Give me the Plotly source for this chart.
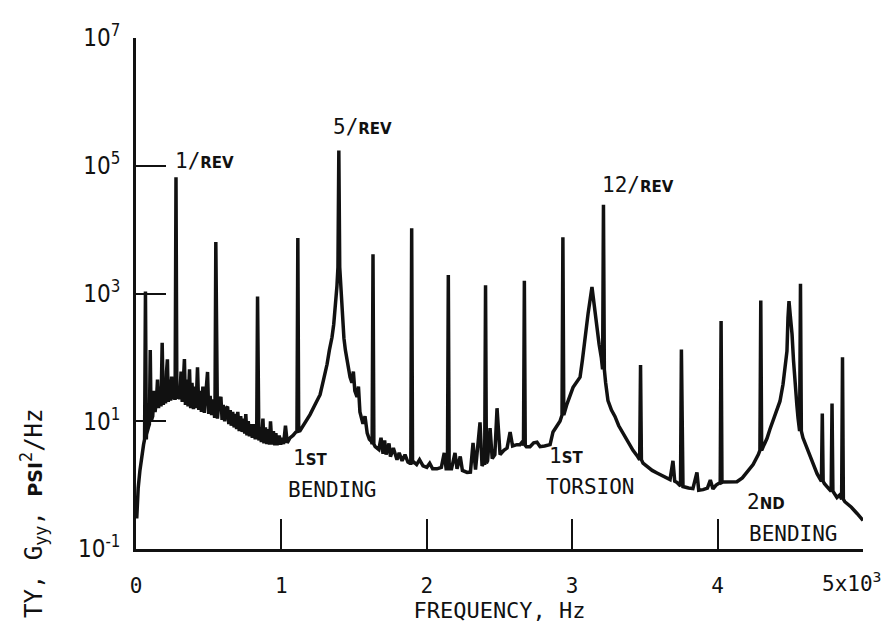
import plotly.graph_objects as go

# Broadband spectrum (Hz, psi^2/Hz): response floor, rotor "grass" and the
# 1st bending, 1st torsion and 2nd bending resonances
bb_freq = [
    5, 15, 27, 40, 52, 72, 85, 92, 98, 104, 115, 125, 131, 140, 148, 155, 165, 172, 180, 188,
    196, 203, 210, 216, 222, 230, 238, 245, 252, 260, 267, 284, 292, 300, 310, 318, 325, 333, 340, 350,
    358, 368, 376, 385, 395, 405, 413, 423, 432, 440, 450, 460, 470, 480, 492, 500, 510, 520, 530, 540,
    560, 570, 584, 592, 600, 610, 620, 630, 638, 648, 655, 665, 675, 685, 692, 700, 710, 720, 730, 740,
    748, 755, 763, 772, 780, 790, 800, 810, 820, 826, 845, 855, 862, 873, 880, 890, 900, 910, 918, 925,
    935, 945, 955, 962, 970, 985, 995, 1005, 1015, 1028, 1040, 1059, 1080, 1100, 1128, 1150, 1175, 1197, 1230, 1266,
    1290, 1314, 1330, 1348, 1360, 1372, 1382, 1410, 1418, 1430, 1440, 1455, 1472, 1485, 1495, 1505, 1520, 1530, 1540, 1561,
    1575, 1590, 1605, 1620, 1645, 1670, 1685, 1699, 1710, 1720, 1740, 1750, 1770, 1795, 1810, 1830, 1850, 1870, 1884, 1910,
    1930, 1950, 1974, 2000, 2020, 2040, 2070, 2100, 2120, 2133, 2170, 2194, 2208, 2230, 2245, 2277, 2300, 2318, 2335, 2366,
    2380, 2390, 2418, 2435, 2450, 2468, 2483, 2504, 2530, 2552, 2573, 2590, 2620, 2641, 2655, 2685, 2710, 2735, 2758, 2779,
    2810, 2848, 2868, 2895, 2916, 2964, 3006, 3030, 3054, 3070, 3088, 3109, 3136, 3157, 3170, 3185, 3200, 3230, 3246, 3270,
    3294, 3320, 3350, 3380, 3418, 3450, 3487, 3520, 3550, 3583, 3620, 3650, 3673, 3693, 3705, 3721, 3742, 3762, 3800, 3830,
    3858, 3870, 3900, 3930, 3950, 3968, 3990, 4010, 4037, 4080, 4133, 4170, 4202, 4244, 4280, 4320, 4340, 4360, 4381, 4405,
    4429, 4450, 4465, 4477, 4484, 4491, 4500, 4512, 4522, 4532, 4545, 4553, 4587, 4610, 4636, 4660, 4684, 4700, 4735, 4753,
    4770, 4800, 4821, 4840, 4875, 4890, 4920, 4959, 4980, 5000,
]
bb_psd = [
    0.3, 0.9, 1.7, 3.0, 4.3, 6.2, 8.0, 9.0, 130, 10, 12, 30, 14, 20, 45, 16, 35, 17, 170, 18,
    40, 19, 60, 93, 20, 45, 21, 50, 22, 40, 23, 23.5, 35, 22, 60, 20, 40, 94, 18, 45,
    17, 65, 16, 40, 15.5, 35, 16, 70, 15, 30, 14, 35, 13.5, 28, 59, 13, 25, 12.5, 22, 12,
    11, 20, 24, 10.5, 18, 10, 16, 17, 9, 15, 8.5, 14, 8, 13, 7.5, 14, 7, 12, 6.8, 11,
    6.4, 13, 6, 10, 5.8, 9, 5.5, 9, 5.2, 7, 5, 8, 4.7, 11, 4.5, 8, 4.4, 7.5, 4.3, 10,
    4.3, 7, 4.2, 6.5, 4.25, 6, 4.3, 5.5, 4.4, 8.5, 4.6, 5.5, 6.0, 6.8, 7.1, 8.5, 10.5, 12.7, 18, 26,
    45, 78, 130, 206, 330, 600, 1300, 1000, 450, 200, 130, 80, 49, 40, 60, 30, 24, 35, 14, 9.1,
    12, 6.5, 5.2, 4.8, 4.0, 3.6, 5.5, 3.1, 5.0, 3.0, 4.5, 2.8, 3.8, 2.5, 3.2, 2.4, 3.0, 2.3, 2.2, 2.3,
    2.1, 2.5, 2.0, 1.9, 2.2, 1.8, 1.8, 1.9, 3.2, 1.8, 1.8, 3.2, 1.8, 2.8, 1.7, 1.58, 1.6, 4.6, 1.75, 9.6,
    2.0, 2.2, 2.4, 7.8, 2.6, 3.0, 16, 3.0, 3.5, 3.8, 6.8, 4.1, 4.3, 4.3, 4.7, 4.0, 4.0, 4.6, 4.7, 4.0,
    4.1, 4.3, 6.8, 8.5, 10, 18.6, 34, 40, 49, 90, 210, 480, 1260, 535, 250, 160, 100, 40, 21, 15,
    11.9, 8.5, 6.5, 5.0, 3.5, 2.8, 2.2, 1.9, 1.7, 1.55, 1.4, 1.3, 1.22, 2.4, 1.15, 1.1, 0.99, 0.95, 0.9, 0.88,
    1.58, 0.83, 0.85, 0.9, 1.2, 0.87, 1.0, 1.1, 1.12, 1.13, 1.13, 1.3, 1.62, 2.1, 3.0, 4.3, 5.4, 7.5, 10, 14,
    20.6, 38, 70, 125, 412, 760, 450, 232, 90, 38, 18, 11.3, 5.5, 4.0, 2.7, 2.0, 1.51, 1.3, 1.05, 0.92,
    0.85, 0.75, 0.64, 0.7, 0.55, 0.52, 0.45, 0.36, 0.32, 0.28,
]

# Discrete rotor harmonics: frequency, peak level and level at the foot
spike_freq = [65, 275, 549, 836, 1113, 1395, 1630, 1896, 2148, 2404, 2671,
              2936, 3215, 3470, 3751, 4024, 4297, 4570, 4720, 4787, 4859]
spike_peak = [1070, 66000, 6400, 900, 7400, 173000, 4100, 10500, 1950, 1350, 1590,
              7600, 24500, 76, 133, 370, 780, 1420, 13.2, 19, 100]
spike_foot = [5.2, 23, 12, 5.5, 7, 2600, 4.4, 2.2, 1.8, 2.2, 4.2,
              12.5, 65, 2.5, 0.97, 1.1, 3.5, 7, 1.15, 0.8, 0.6]

x_ticks = [0, 1000, 2000, 3000, 4000, 5000]
x_ticktext = ["0", "1", "2", "3", "4", ""]
x_last_label = "5x10<sup>3</sup>"
y_ticks = [1e-1, 1e1, 1e3, 1e5, 1e7]
y_ticktext = ["10<sup>-1</sup>", "10<sup>1</sup>", "10<sup>3</sup>", "10<sup>5</sup>", "10<sup>7</sup>"]

SPIKE_HALF_WIDTH = 6  # Hz, half base width of a harmonic line

pts = list(zip(bb_freq, bb_psd))
for f, pk, ft in zip(spike_freq, spike_peak, spike_foot):
    pts += [(f - SPIKE_HALF_WIDTH, ft), (f, pk), (f + SPIKE_HALF_WIDTH, ft)]
pts.sort(key=lambda p: p[0])
freq = [p[0] for p in pts]
psd = [p[1] for p in pts]

INK = "#111111"
MONO = "DejaVu Sans Mono, Liberation Mono, monospace"
NUM = "Liberation Sans Narrow, DejaVu Sans Condensed, Arial Narrow, sans-serif"

fig = go.Figure()
fig.add_trace(go.Scatter(x=freq, y=psd, mode="lines",
                         line=dict(color=INK, width=3.5), showlegend=False,
                         hoverinfo="skip"))


def small(s, size=15):
    # small capitals used in the lettering
    return (f"<span style='font-size:{size}px;font-family:DejaVu Sans;"
            f"font-weight:bold'>{s}</span>")


labels = [
    ("1/" + small("REV"), 252, 5.07),
    ("5/" + small("REV"), 1342, 5.61),
    ("12/" + small("REV"), 3191, 4.70),
    ("1" + small("ST"), 1065, 0.43),
    ("BENDING", 1033, -0.075),
    ("1" + small("ST"), 2825, 0.45),
    ("TORSION", 2808, -0.036),
    ("2" + small("ND"), 4185, -0.26),
    ("BENDING", 4203, -0.76),
]
for text, x, y in labels:
    fig.add_annotation(x=x, y=y, xref="x", yref="y", text=text, showarrow=False,
                       xanchor="left", yanchor="middle",
                       font=dict(family=MONO, size=21, color=INK))

# last frequency tick label, kept inside the page
fig.add_annotation(x=5000, y=0, xref="x", yref="paper", text=x_last_label,
                   showarrow=False, xanchor="center", yanchor="top",
                   xshift=-12, yshift=-17,
                   font=dict(family=MONO, size=21, color=INK))

# Rotated ordinate title (lower end runs to the page edge)
fig.add_annotation(
    x=-0.1417, y=-0.139, xref="paper", yref="paper", textangle=-90,
    text="TY, G<sub>yy</sub>, " + small("PSI", 19) + "<sup>2</sup>/Hz",
    showarrow=False, xanchor="center", yanchor="bottom",
    font=dict(family=MONO, size=24, color=INK))

fig.update_layout(
    width=891, height=623,
    margin=dict(l=136, r=28, t=38, b=74, autoexpand=False),
    paper_bgcolor="white", plot_bgcolor="white",
    xaxis=dict(range=[0, 5000], tickvals=x_ticks, ticktext=x_ticktext,
               ticks="inside", ticklen=30, tickwidth=2, tickcolor=INK,
               showline=True, linewidth=2.5, linecolor=INK, automargin=False,
               showgrid=False, zeroline=False, ticklabelstandoff=16,
               tickfont=dict(family=MONO, size=21, color=INK),
               title=dict(text="FREQUENCY, Hz", standoff=6,
                          font=dict(family=MONO, size=22, color=INK))),
    yaxis=dict(type="log", range=[-1, 7], tickvals=y_ticks, ticktext=y_ticktext,
               ticks="inside", ticklen=30, tickwidth=2, tickcolor=INK,
               showline=True, linewidth=2.5, linecolor=INK, automargin=False,
               showgrid=False, zeroline=False, ticklabelstandoff=8,
               tickfont=dict(family=NUM, size=24, color=INK)),
)

fig.write_html("out.html")
